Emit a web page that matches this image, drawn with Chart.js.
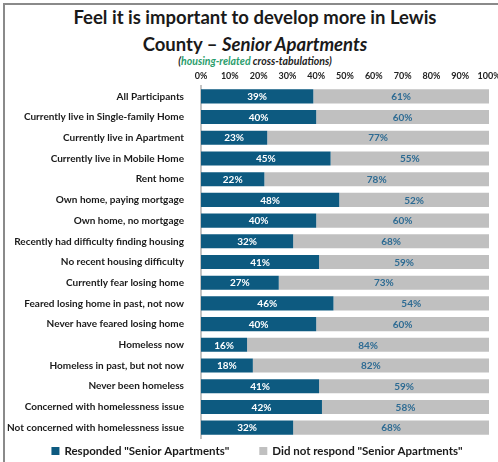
<!DOCTYPE html>
<html>
<head>
<meta charset="utf-8">
<script src="https://cdn.jsdelivr.net/npm/chart.js@4/dist/chart.umd.min.js"></script>
<style>
	html, body { margin: 0; padding: 0; background: #fff; }
	#wrap { position: relative; width: 498px; height: 462px; overflow: hidden; font-family: Lato, sans-serif; }
	#frame { position: absolute; left: 3px; top: 3px; width: 600px; height: 600px; border-left: 2px solid #8a8a8a; border-top: 2px solid #8a8a8a; }
	#title { position: absolute; left: 6px; top: 4px; width: 498px; text-align: center; font-weight: bold; font-size: 18.5px; line-height: 27px; color: #1a1a1a; }
	#sub { position: absolute; left: 6px; top: 55px; width: 498px; text-align: center; font-weight: bold; font-style: italic; font-size: 10.5px; color: #222; }
	#sub span { color: #2a9d6c; }
	canvas { position: absolute; left: 0; top: 0; }
</style>
</head>
<body>
<div id="wrap">
	<div id="frame"></div>
	<div id="title">Feel it is important to develop more in Lewis<br>County – <i>Senior Apartments</i></div>
	<div id="sub">(<span>housing-related</span> cross-tabulations)</div>
	<canvas id="chart" width="498" height="462"></canvas>
</div>
<script>
var categories = [
	'All Participants',
	'Currently live in Single-family Home',
	'Currently live in Apartment',
	'Currently live in Mobile Home',
	'Rent home',
	'Own home, paying mortgage',
	'Own home, no mortgage',
	'Recently had difficulty finding housing',
	'No recent housing difficulty',
	'Currently fear losing home',
	'Feared losing home in past, not now',
	'Never have feared losing home',
	'Homeless now',
	'Homeless in past, but not now',
	'Never been homeless',
	'Concerned with homelessness issue',
	'Not concerned with homelessness issue'
];
var responded = [39, 40, 23, 45, 22, 48, 40, 32, 41, 27, 46, 40, 16, 18, 41, 42, 32];
var notResponded = [61, 60, 77, 55, 78, 52, 60, 68, 59, 73, 54, 60, 84, 82, 59, 58, 68];
var xTicks = [0, 10, 20, 30, 40, 50, 60, 70, 80, 90, 100];

// value labels centred in each segment
var barLabels = {
	id: 'barLabels',
	afterDatasetsDraw: function (chart) {
		var ctx = chart.ctx;
		ctx.save();
		ctx.font = 'bold 10px Lato, sans-serif';
		ctx.textAlign = 'center';
		ctx.textBaseline = 'middle';
		chart.data.datasets.forEach(function (ds, i) {
			var meta = chart.getDatasetMeta(i);
			ctx.fillStyle = i === 0 ? '#ffffff' : '#2d6b93';
			meta.data.forEach(function (bar, j) {
				var p = bar.getProps(['x', 'y', 'base'], true);
				ctx.fillText(ds.data[j] + '%', (p.x + p.base) / 2, p.y + 0.5);
			});
		});
		ctx.restore();
	}
};

// legend drawn under the chart, one row, wide gap between items
var bottomLegend = {
	id: 'bottomLegend',
	afterDraw: function (chart) {
		var ctx = chart.ctx;
		var gap = 30, box = 8, y = 451;
		ctx.save();
		ctx.font = 'bold 11.5px Lato, sans-serif';
		ctx.textBaseline = 'middle';
		var items = chart.data.datasets.map(function (ds) {
			return { text: ds.label, color: ds.backgroundColor, w: box + 5 + ctx.measureText(ds.label).width };
		});
		var total = items.reduce(function (s, it) { return s + it.w; }, 0) + gap * (items.length - 1);
		var x = (chart.width - total) / 2 + 8;
		items.forEach(function (it) {
			ctx.fillStyle = it.color;
			ctx.fillRect(x, y - box / 2, box, box);
			ctx.fillStyle = '#1a1a1a';
			ctx.fillText(it.text, x + box + 5, y + 0.5);
			x += it.w + gap;
		});
		ctx.restore();
	}
};

new Chart(document.getElementById('chart'), {
	type: 'bar',
	data: {
		labels: categories,
		datasets: [
			{
				label: 'Responded "Senior Apartments"',
				data: responded,
				backgroundColor: '#0d5a80',
				barPercentage: 0.68,
				categoryPercentage: 1
			},
			{
				label: 'Did not respond "Senior Apartments"',
				data: notResponded,
				backgroundColor: '#c0c0c0',
				barPercentage: 0.68,
				categoryPercentage: 1
			}
		]
	},
	options: {
		indexAxis: 'y',
		responsive: false,
		animation: false,
		layout: { padding: { top: 64, right: 0, left: 4, bottom: 24 } },
		plugins: {
			legend: { display: false },
			tooltip: { enabled: false }
		},
		scales: {
			x: {
				position: 'top',
				stacked: true,
				min: 0,
				max: 100,
				afterBuildTicks: function (scale) {
					scale.ticks = xTicks.map(function (v) { return { value: v }; });
				},
				afterFit: function (scale) {
					scale.height = 22;
					scale.paddingRight = 9;
				},
				grid: { display: false, drawTicks: false, tickLength: 0 },
				border: { display: false },
				ticks: {
					padding: 5,
					maxRotation: 0,
					minRotation: 0,
					autoSkip: false,
					color: '#222',
					font: { family: 'Lato', size: 9, weight: 'bold' },
					callback: function (v) { return v + '%'; }
				}
			},
			y: {
				stacked: true,
				grid: { display: false },
				border: { color: '#c4c4c4', width: 2 },
				afterFit: function (scale) { scale.width = 197; },
				ticks: {
					padding: 9,
					color: '#1a1a1a',
					font: { family: 'Lato', size: 10, weight: 'bold' }
				}
			}
		}
	},
	plugins: [barLabels, bottomLegend]
});
</script>
</body>
</html>
